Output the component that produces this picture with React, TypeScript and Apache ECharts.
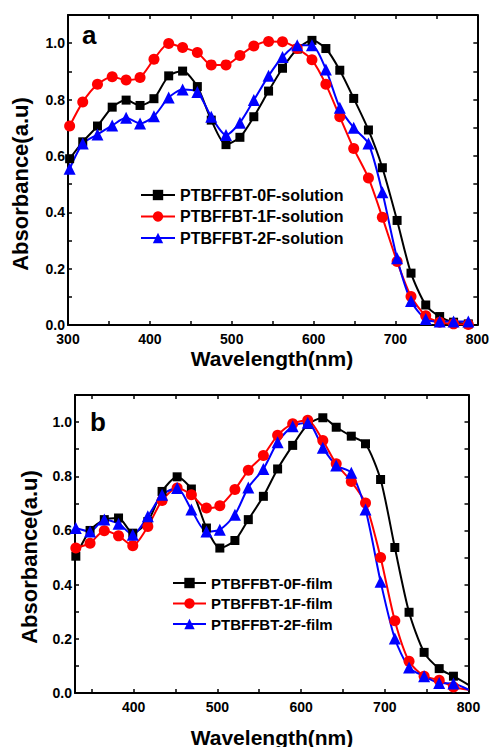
import React, { useEffect, useRef } from 'react';
import * as echarts from 'echarts';

// ---------- Panel a: solution ----------
const solWl = [302, 318, 336, 354, 371, 388, 405, 423, 440, 458, 475, 493, 510, 527, 545, 562, 580, 598, 615, 632, 649, 667, 684, 702, 719, 737, 754, 771, 789];
const sol0F = [0.59, 0.65, 0.706, 0.773, 0.798, 0.779, 0.803, 0.884, 0.901, 0.846, 0.727, 0.64, 0.666, 0.739, 0.83, 0.911, 0.979, 1.01, 0.981, 0.904, 0.804, 0.692, 0.558, 0.371, 0.184, 0.071, 0.03, 0.01, 0.004];
const sol1F = [0.706, 0.791, 0.854, 0.881, 0.869, 0.878, 0.943, 0.999, 0.985, 0.967, 0.923, 0.923, 0.956, 0.99, 1.006, 1.005, 0.981, 0.941, 0.854, 0.739, 0.626, 0.522, 0.382, 0.225, 0.101, 0.033, 0.01, 0.004, 0.002];
const sol2F = [0.554, 0.644, 0.676, 0.708, 0.735, 0.715, 0.741, 0.807, 0.836, 0.827, 0.739, 0.674, 0.718, 0.798, 0.884, 0.951, 0.993, 0.993, 0.907, 0.771, 0.7, 0.644, 0.471, 0.237, 0.085, 0.021, 0.012, 0.012, 0.012];
const solNames = ['PTBFFBT-0F-solution', 'PTBFFBT-1F-solution', 'PTBFFBT-2F-solution'];
const solXLabels = [300, 400, 500, 600, 700, 800];
const solXTicks = [300, 350, 400, 450, 500, 550, 600, 650, 700, 750, 800];

// ---------- Panel b: film ----------
const filmWl = [331, 348, 365, 382, 399, 417, 434, 452, 469, 487, 503, 521, 537, 555, 572, 590, 608, 626, 642, 660, 677, 695, 712, 729, 747, 765, 782, 800];
const film0F = [0.505, 0.6, 0.64, 0.646, 0.59, 0.633, 0.744, 0.798, 0.753, 0.609, 0.535, 0.563, 0.64, 0.726, 0.827, 0.914, 0.991, 1.016, 0.981, 0.948, 0.92, 0.788, 0.537, 0.298, 0.15, 0.09, 0.062, 0.03];
const film1F = [0.535, 0.553, 0.599, 0.58, 0.544, 0.615, 0.711, 0.757, 0.732, 0.683, 0.691, 0.751, 0.822, 0.877, 0.951, 0.994, 1.007, 0.932, 0.846, 0.781, 0.701, 0.5, 0.267, 0.117, 0.062, 0.047, 0.022, 0.012];
const film2F = [0.609, 0.596, 0.64, 0.625, 0.584, 0.652, 0.732, 0.757, 0.677, 0.596, 0.603, 0.658, 0.759, 0.827, 0.926, 0.985, 0.998, 0.905, 0.84, 0.813, 0.677, 0.411, 0.201, 0.094, 0.062, 0.037, 0.035, 0.012];
const filmNames = ['PTBFFBT-0F-film', 'PTBFFBT-1F-film', 'PTBFFBT-2F-film'];
const filmXLabels = [400, 500, 600, 700, 800];
const filmXTicks = [350, 400, 450, 500, 550, 600, 650, 700, 750, 800];

const COLORS = ['#000000', '#ff0000', '#0000ff'];
const SYMBOLS = ['rect', 'circle', 'triangle'];
const SYMBOL_SIZES = [9, 11, 12];
const FONT = '"Liberation Sans", Arial, Helvetica, sans-serif';

function xAxisPair(gridIndex: number, min: number, labels: number[], ticks: number[]) {
  const common = {
    type: 'value',
    gridIndex,
    min,
    max: 800,
    splitLine: { show: false },
    axisLine: { show: true, onZero: false, lineStyle: { color: '#000', width: 2 } },
    axisTick: { show: true, inside: true, length: 4, customValues: ticks, lineStyle: { color: '#000', width: 1.5 } },
  };
  return [
    {
      ...common,
      position: 'bottom',
      axisLabel: { show: true, customValues: labels, color: '#000', fontFamily: FONT, fontWeight: 'bold', fontSize: 14, margin: 7 },
    },
    { ...common, position: 'top', axisLabel: { show: false } },
  ];
}

function yAxisPair(gridIndex: number) {
  const common = {
    type: 'value',
    gridIndex,
    min: 0,
    max: 1.1,
    interval: 0.1,
    splitLine: { show: false },
    axisLine: { show: true, onZero: false, lineStyle: { color: '#000', width: 2 } },
    axisTick: { show: true, inside: true, length: 4, lineStyle: { color: '#000', width: 1.5 } },
  };
  return [
    {
      ...common,
      position: 'left',
      axisLabel: {
        show: true,
        color: '#000',
        fontFamily: FONT,
        fontWeight: 'bold',
        fontSize: 14,
        margin: 3,
        formatter: (v: number) => {
          const r = Math.round(v * 10);
          return r % 2 === 0 && r <= 10 ? (r / 10).toFixed(1) : '';
        },
      },
    },
    { ...common, position: 'right', axisLabel: { show: false } },
  ];
}

function makeSeries(name: string, wl: number[], vals: number[], i: number, axisIdx: number, lastNoSymbol: boolean) {
  return {
    type: 'line',
    name,
    xAxisIndex: axisIdx,
    yAxisIndex: axisIdx,
    data: wl.map((w, k) =>
      lastNoSymbol && k === wl.length - 1 ? { value: [w, vals[k]], symbol: 'none' } : [w, vals[k]]
    ),
    symbol: SYMBOLS[i],
    symbolSize: SYMBOL_SIZES[i],
    smooth: 0.25,
    lineStyle: { color: COLORS[i], width: 2 },
    itemStyle: { color: COLORS[i] },
  };
}

export default function App() {
  const ref = useRef<HTMLDivElement>(null);

  useEffect(() => {
    if (!ref.current) return;
    const chart = echarts.init(ref.current, undefined, { renderer: 'svg' });
    const solData = [sol0F, sol1F, sol2F];
    const filmData = [film0F, film1F, film2F];

    const legendText = (size: number) => ({
      color: '#000',
      fontFamily: FONT,
      fontWeight: 'bold',
      fontSize: size,
      lineHeight: size,
    });

    const option: any = {
      animation: false,
      backgroundColor: '#ffffff',
      grid: [
        { left: 68, top: 15, width: 411, height: 310, show: false },
        { left: 75, top: 395, width: 393.5, height: 298, show: false },
      ],
      xAxis: [
        ...xAxisPair(0, 300, solXLabels, solXTicks),
        ...xAxisPair(1, 330, filmXLabels, filmXTicks),
      ],
      yAxis: [...yAxisPair(0), ...yAxisPair(1)],
      legend: [
        {
          data: solNames,
          orient: 'vertical',
          left: 140,
          top: 187,
          itemWidth: 34,
          itemHeight: 13,
          itemGap: 5.5,
          padding: 0,
          textStyle: legendText(16),
        },
        {
          data: filmNames,
          orient: 'vertical',
          left: 172,
          top: 575.5,
          itemWidth: 33,
          itemHeight: 13,
          itemGap: 5.5,
          padding: 0,
          textStyle: legendText(15),
        },
      ],
      series: [
        // axis index 0 = panel a (bottom/left), 2 = panel b (bottom/left)
        ...solNames.map((n, i) => makeSeries(n, solWl, solData[i], i, 0, false)),
        ...filmNames.map((n, i) => makeSeries(n, filmWl, filmData[i], i, 2, true)),
      ],
      graphic: [
        {
          type: 'text',
          left: 82,
          top: 22,
          style: { text: 'a', fill: '#000', font: `bold 26px ${FONT}` },
        },
        {
          type: 'text',
          left: 90,
          top: 409,
          style: { text: 'b', fill: '#000', font: `bold 26px ${FONT}` },
        },
        {
          type: 'text',
          x: 272,
          y: 358,
          style: { text: 'Wavelength(nm)', fill: '#000', font: `bold 21px ${FONT}`, align: 'center', verticalAlign: 'middle' },
        },
        {
          type: 'text',
          x: 272,
          y: 737,
          style: { text: 'Wavelength(nm)', fill: '#000', font: `bold 21px ${FONT}`, align: 'center', verticalAlign: 'middle' },
        },
        {
          type: 'text',
          x: 20.5,
          y: 184,
          rotation: Math.PI / 2,
          style: { text: 'Absorbance(a.u)', fill: '#000', font: `bold 22px ${FONT}`, align: 'center', verticalAlign: 'middle' },
        },
        {
          type: 'text',
          x: 29.5,
          y: 557,
          rotation: Math.PI / 2,
          style: { text: 'Absorbance(a.u)', fill: '#000', font: `bold 22px ${FONT}`, align: 'center', verticalAlign: 'middle' },
        },
      ],
    };
    chart.setOption(option);
    return () => chart.dispose();
  }, []);

  return (
    <div
      ref={ref}
      style={{ position: 'fixed', left: 0, top: 0, width: 492, height: 747, background: '#fff' }}
    />
  );
}
